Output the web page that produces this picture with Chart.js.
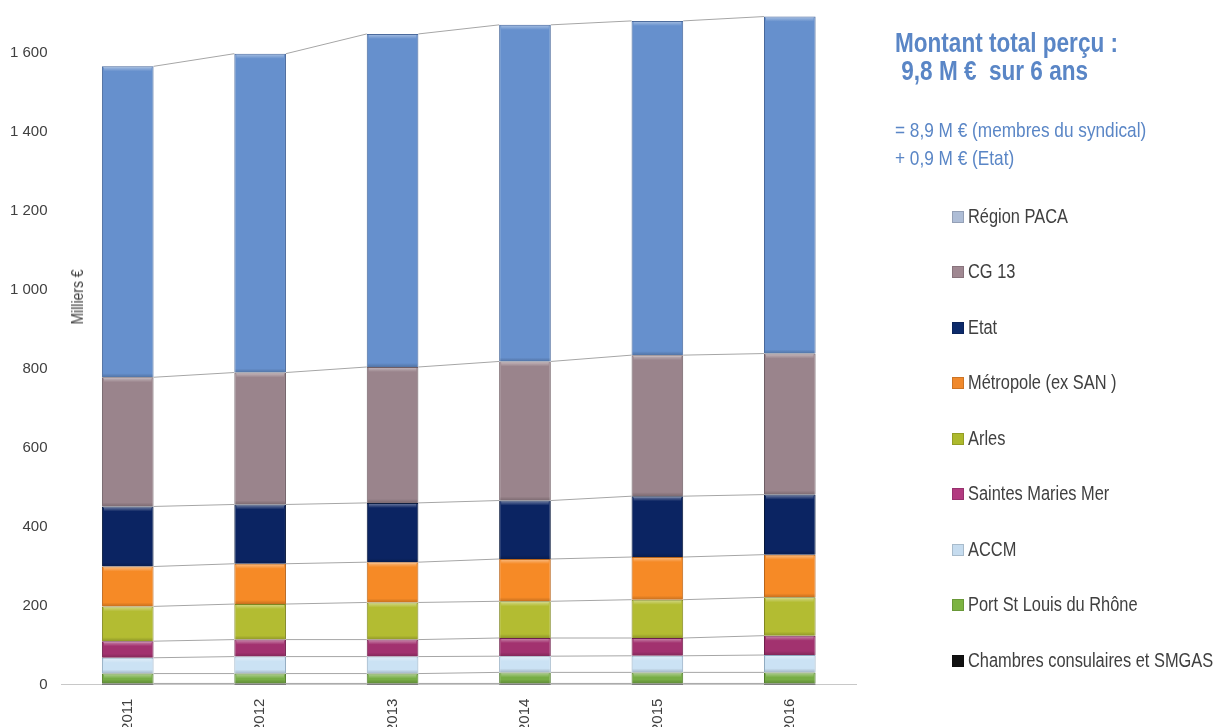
<!DOCTYPE html>
<html><head><meta charset="utf-8">
<script src="https://cdn.jsdelivr.net/npm/chart.js@4.4.1/dist/chart.umd.min.js"></script>
<style>
html,body{margin:0;padding:0;background:#fff;overflow:hidden}
#wrap{position:relative;width:1219px;height:727px;overflow:hidden}
#c{position:absolute;left:0;top:0}
.t{position:absolute;white-space:pre;font-family:"Liberation Sans",Arial,sans-serif;line-height:1;transform-origin:0 0;transform:scaleX(0.82)}
.blue{color:#5a86c6}
.lg{color:#404040}
.sw{position:absolute;width:12px;height:12px;box-sizing:border-box;border:1px solid rgba(0,0,0,0.15)}
</style></head>
<body><div id="wrap"><canvas id="c"></canvas></div>
<script>
// ---- data ----
const years = ['2011','2012','2013','2014','2015','2016'];
const seriesNames = ['Chambres consulaires et SMGAS','Port St Louis du Rhône','ACCM','Saintes Maries Mer','Arles','Métropole (ex SAN )','Etat','CG 13','Région PACA'];
const chambres      = [3,3,3,3,3,3];
const portStLouis   = [25,25,25,28,28,28];
const accm          = [40,43,43,41,42,44];
const saintesMaries = [42,43,43,46,45,49];
const arles         = [88,90,94,93,97,97];
const metropole     = [101,102,102,107,108,108];
const etat          = [152,150,150,148,154,152];
const cg13          = [327,334,344,352,357,357];
const regionPaca    = [787,807,843,852,846,853];
const yTickValues   = [0,200,400,600,800,1000,1200,1400,1600];
const yAxisTitle = 'Milliers €';
const titleLines = ['Montant total perçu :', ' 9,8 M €  sur 6 ans'];
const noteLines = ['= 8,9 M € (membres du syndical)', '+ 0,9 M € (Etat)'];

// ---- styles ----
const seriesValues = [chambres,portStLouis,accm,saintesMaries,arles,metropole,etat,cg13,regionPaca];
const fillColors   = ['#151515','#77ad45','#cbe2f4','#a2326f','#b3bc32','#f68a26','#0b2462','#9a848c','#6690cd'];
const edgeColors   = ['#000000','#4f7a2a','#8fa9bf','#6e1f4b','#7f8620','#b8641a','#061639','#6e5d64','#47679a'];
const legendColors = ['#111111','#7cb342','#c6dcef','#b23a80','#adb92c','#f0892c','#0c2a6a','#a08892','#aebdd6'];
const FONT = '"Liberation Sans",Arial,sans-serif';

const fmt = v => String(v).replace(/\B(?=(\d{3})+(?!\d))/g, ' ');

const seriesLines = {
  id:'seriesLines',
  beforeDatasetsDraw(chart){
    const ctx = chart.ctx;
    ctx.save();
    ctx.strokeStyle = '#a6a6a6';
    ctx.lineWidth = 1;
    chart.data.datasets.forEach((ds, d) => {
      const els = chart.getDatasetMeta(d).data;
      for (let i = 0; i < els.length - 1; i++) {
        const a = els[i], b = els[i+1];
        ctx.beginPath();
        ctx.moveTo(a.x + a.width/2, a.y);
        ctx.lineTo(b.x - b.width/2, b.y);
        ctx.stroke();
      }
    });
    ctx.restore();
  }
};

const bevel = {
  id:'bevel',
  afterDatasetsDraw(chart){
    const ctx = chart.ctx;
    ctx.save();
    chart.data.datasets.forEach((ds, d) => {
      chart.getDatasetMeta(d).data.forEach(el => {
        const h = Math.abs(el.base - el.y);
        if (h < 6) return;
        const l = el.x - el.width/2, t = el.y;
        const g = ctx.createLinearGradient(0, t, 0, t + 5);
        g.addColorStop(0, 'rgba(255,255,255,0.45)');
        g.addColorStop(1, 'rgba(255,255,255,0)');
        ctx.fillStyle = g;
        ctx.fillRect(l + 2, t + 1, el.width - 4, 5);
        const g2 = ctx.createLinearGradient(0, el.base - 4, 0, el.base);
        g2.addColorStop(0, 'rgba(0,0,0,0)');
        g2.addColorStop(1, 'rgba(0,0,0,0.2)');
        ctx.fillStyle = g2;
        ctx.fillRect(l + 1, el.base - 4, el.width - 2, 4);
      });
    });
    ctx.restore();
  }
};

new Chart(document.getElementById('c'), {
  type:'bar',
  data:{
    labels: years,
    datasets: seriesNames.map((n, i) => ({
      label: n,
      data: seriesValues[i],
      backgroundColor: fillColors[i],
      borderColor: edgeColors[i],
      borderWidth: 1,
      barPercentage: 0.39,
      categoryPercentage: 1
    }))
  },
  options:{
    responsive:true,
    maintainAspectRatio:false,
    animation:false,
    layout:{padding:{left:-4, right:363, top:13, bottom:-19}},
    plugins:{legend:{display:false}, tooltip:{enabled:false}},
    scales:{
      x:{
        stacked:true,
        grid:{display:false, drawTicks:false},
        border:{display:true, color:'#c8c8c8', width:1},
        afterFit: s => { s.paddingLeft = 0; s.paddingRight = 0; },
        ticks:{minRotation:90, maxRotation:90, padding:14, color:'#404040', font:{family:FONT, size:15}}
      },
      y:{
        stacked:true,
        min:0, max:1700,
        grid:{display:false, drawTicks:false},
        border:{display:false},
        afterBuildTicks: s => { s.ticks = yTickValues.map(v => ({value:v})); },
        afterFit: s => { s.paddingTop = 0; s.paddingBottom = 0; },
        ticks:{padding:14, color:'#404040', font:{family:FONT, size:15}, callback: v => fmt(v)}
      }
    }
  },
  plugins:[seriesLines, bevel]
});

// ---- text overlays ----
const wrap = document.getElementById('wrap');
function addText(txt, left, baseline, size, cls, bold){
  const d = document.createElement('div');
  d.className = 't ' + cls;
  d.textContent = txt;
  d.style.left = left + 'px';
  d.style.top = (baseline - 0.8465*size) + 'px';
  d.style.fontSize = size + 'px';
  if (bold) d.style.fontWeight = 'bold';
  wrap.appendChild(d);
  return d;
}
addText(titleLines[0], 895, 52, 27.5, 'blue', true);
addText(titleLines[1], 895, 80, 27.5, 'blue', true);
addText(noteLines[0], 895, 137, 21, 'blue', false);
addText(noteLines[1], 895, 165, 21, 'blue', false);

const yt = addText(yAxisTitle, 0, 0, 17, 'lg', false);
yt.style.top = '0px';
yt.style.left = '0px';
const W = yt.offsetWidth;
yt.style.transform = 'translate(69px,' + (297 + 0.41*W) + 'px) rotate(-90deg) scaleX(0.82)';

for (let k = 0; k < seriesNames.length; k++) {
  const i = seriesNames.length - 1 - k;
  const base = 222.7 + 55.5*k;
  const sw = document.createElement('div');
  sw.className = 'sw';
  sw.style.left = '952px';
  sw.style.top = (base - 12) + 'px';
  sw.style.background = legendColors[i];
  wrap.appendChild(sw);
  addText(seriesNames[i], 968, base, 20, 'lg', false);
}
</script>
</body></html>
